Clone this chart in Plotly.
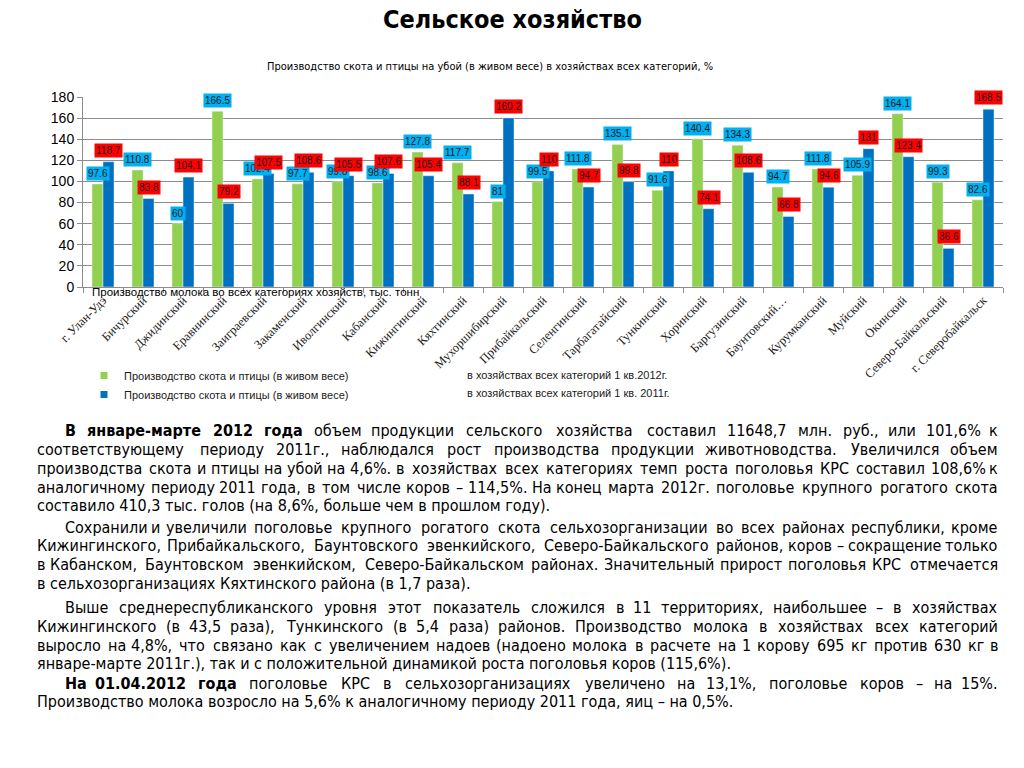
import plotly.graph_objects as go

categories = ["г. Улан-Удэ", "Бичурский", "Джидинский", "Еравнинский", "Заиграевский",
              "Закаменский", "Иволгинский", "Кабанский", "Кижингинский", "Кяхтинский",
              "Мухоршибирский", "Прибайкальский", "Селенгинский", "Тарбагатайский",
              "Тункинский", "Хоринский", "Баргузинский", "Баунтовский…", "Курумканский",
              "Муйский", "Окинский", "Северо-Байкальский", "г. Северобайкальск"]
values_2012 = [97.6, 110.8, 60, 166.5, 102.4, 97.7, 99.8, 98.6, 127.8, 117.7, 81, 99.5,
               111.8, 135.1, 91.6, 140.4, 134.3, 94.7, 111.8, 105.9, 164.1, 99.3, 82.6]
values_2011 = [118.7, 83.8, 104.1, 79.2, 107.5, 108.6, 105.5, 107.6, 105.4, 88.1, 160.2, 110,
               94.7, 99.8, 110, 74.1, 108.6, 66.8, 94.6, 131, 123.4, 36.6, 168.5]
y_ticks = [0, 20, 40, 60, 80, 100, 120, 140, 160, 180]

series_name = "Производство скота и птицы (в живом весе)"
series_suffix_2012 = "в хозяйствах всех категорий 1 кв.2012г."
series_suffix_2011 = "в хозяйствах всех категорий 1 кв. 2011г."

title_text = "Сельское хозяйство"
subtitle_text = "Производство скота и птицы на убой (в живом весе) в хозяйствах всех категорий, %"
stray_title = "Производство молока во всех категориях хозяйств, тыс. тонн"

# paragraphs: (line text, bold leading words, justified, indent)
paragraph_lines = [
    ("В январе-марте 2012 года объем продукции сельского хозяйства составил 11648,7 млн. руб., или 101,6% к", 4, True, True),
    ("соответствующему периоду 2011г., наблюдался рост производства продукции животноводства. Увеличился объем", 0, True, False),
    ("производства скота и птицы на убой на 4,6%. в хозяйствах всех категориях темп роста поголовья КРС составил 108,6% к", 0, True, False),
    ("аналогичному периоду 2011 года, в том числе коров – 114,5%. На конец марта 2012г. поголовье крупного рогатого скота", 0, True, False),
    ("составило 410,3 тыс. голов (на 8,6%, больше чем в прошлом году).", 0, False, False),
    ("Сохранили и увеличили поголовье крупного рогатого скота сельхозорганизации во всех районах республики, кроме", 0, True, True),
    ("Кижингинского, Прибайкальского, Баунтовского эвенкийского, Северо-Байкальского районов, коров – сокращение только", 0, True, False),
    ("в Кабанском, Баунтовском эвенкийском, Северо-Байкальском районах. Значительный прирост поголовья КРС отмечается", 0, True, False),
    ("в сельхозорганизациях Кяхтинского района (в 1,7 раза).", 0, False, False),
    ("Выше среднереспубликанского уровня этот показатель сложился в 11 территориях, наибольшее – в хозяйствах", 0, True, True),
    ("Кижингинского (в 43,5 раза), Тункинского (в 5,4 раза) районов. Производство молока в хозяйствах всех категорий", 0, True, False),
    ("выросло на 4,8%, что связано как с увеличением надоев (надоено молока в расчете на 1 корову 695 кг против 630 кг в", 0, True, False),
    ("январе-марте 2011г.), так и с положительной динамикой роста поголовья коров (115,6%).", 0, False, False),
    ("На 01.04.2012 года поголовье КРС в сельхозорганизациях увеличено на 13,1%, поголовье коров – на 15%.", 3, True, True),
    ("Производство молока возросло на 5,6% к аналогичному периоду 2011 года, яиц – на 0,5%.", 0, False, False),
]
line_y = [430, 449, 468, 487, 505, 527, 545, 564, 583, 607, 626, 645, 663, 683, 701]

W, H = 1024, 768
GREEN = "#92D050"
BLUE = "#0070C0"
CYAN_BOX = "#00B0F0"
RED_BOX = "#FF0000"
ARIAL = "Liberation Sans, Arial, sans-serif"
TAHOMA = "DejaVu Sans Condensed, DejaVu Sans, sans-serif"
TEXT_SIZE = 16


def px(x):
    return x / W


def py(y):
    return 1 - y / H


def char_w(ch):
    if ch in " .,:;":
        return 0.32
    if ch in "()":
        return 0.39
    if ch == "%":
        return 0.95
    if ch.isdigit():
        return 0.636
    if ch == "-":
        return 0.36
    if ch == "–":
        return 0.5
    if ch in "il":
        return 0.28
    if ch in "мшщжыюфМШЩЖЫЮФ":
        return 0.88
    if ch.isupper():
        return 0.72
    return 0.625


def word_w(word, bold):
    return sum(char_w(c) for c in word) * TEXT_SIZE * 0.9 * (1.1 if bold else 1.0)


fig = go.Figure()
fig.add_trace(go.Bar(x=categories, y=values_2012, marker_color=GREEN, showlegend=False,
                     hoverinfo="x+y"))
fig.add_trace(go.Bar(x=categories, y=values_2011, marker_color=BLUE, showlegend=False,
                     hoverinfo="x+y"))
# legend entries
fig.add_trace(go.Scatter(x=[None], y=[None], mode="markers", name=series_name,
                         marker=dict(symbol="square", size=7, color=GREEN)))
fig.add_trace(go.Scatter(x=[None], y=[None], mode="markers", name=series_name,
                         marker=dict(symbol="square", size=7, color=BLUE)))

annotations = []
for c, v in zip(categories, values_2012):
    annotations.append(dict(x=c, y=v, xref="x", yref="y", text=f"{v:g}", showarrow=False,
                            yanchor="bottom", xshift=-5.5, yshift=3, bgcolor=CYAN_BOX,
                            borderpad=1, font=dict(family=ARIAL, size=10, color="#1a1a1a")))
for c, v in zip(categories, values_2011):
    annotations.append(dict(x=c, y=v, xref="x", yref="y", text=f"{v:g}", showarrow=False,
                            yanchor="bottom", xshift=5.5, yshift=4, bgcolor=RED_BOX,
                            borderpad=1, font=dict(family=ARIAL, size=10, color="#1a1a1a")))

annotations.append(dict(x=px(512), y=py(20), xref="paper", yref="paper", text=f"<b>{title_text}</b>",
                        showarrow=False, xanchor="center", yanchor="middle",
                        font=dict(family=TAHOMA, size=25, color="black")))
annotations.append(dict(x=px(490), y=py(66), xref="paper", yref="paper", text=subtitle_text,
                        showarrow=False, xanchor="center", yanchor="middle",
                        font=dict(family=TAHOMA, size=11, color="black")))
annotations.append(dict(x=px(90), y=py(292), xref="paper", yref="paper", text=stray_title,
                        showarrow=False, xanchor="left", yanchor="middle",
                        font=dict(family=ARIAL, size=11.5, color="black")))
annotations.append(dict(x=px(465), y=py(375), xref="paper", yref="paper", text=series_suffix_2012,
                        showarrow=False, xanchor="left", yanchor="middle",
                        font=dict(family=ARIAL, size=11, color="#1a1a1a")))
annotations.append(dict(x=px(465), y=py(393), xref="paper", yref="paper", text=series_suffix_2011,
                        showarrow=False, xanchor="left", yanchor="middle",
                        font=dict(family=ARIAL, size=11, color="#1a1a1a")))

X_LEFT, X_RIGHT, INDENT = 35, 1000, 63
for (text, nbold, justified, indent), y in zip(paragraph_lines, line_y):
    xl = INDENT if indent else X_LEFT
    words = text.split(" ")
    if not justified:
        annotations.append(dict(x=px(xl), y=py(y), xref="paper", yref="paper", text=text,
                                showarrow=False, xanchor="left", yanchor="middle",
                                font=dict(family=TAHOMA, size=TEXT_SIZE, color="black")))
        continue
    widths = [word_w(w, i < nbold) for i, w in enumerate(words)]
    gap = (X_RIGHT - xl - sum(widths)) / (len(words) - 1)
    pos = xl
    for i, (w, ww) in enumerate(zip(words, widths)):
        t = f"<b>{w}</b>" if i < nbold else w
        if i == 0:
            x, anchor = pos, "left"
        elif i == len(words) - 1:
            x, anchor = X_RIGHT, "right"
        else:
            x, anchor = pos + ww / 2, "center"
        annotations.append(dict(x=px(x), y=py(y), xref="paper", yref="paper", text=t,
                                showarrow=False, xanchor=anchor, yanchor="middle",
                                font=dict(family=TAHOMA, size=TEXT_SIZE, color="black")))
        pos += ww + gap

fig.update_layout(
    width=W, height=H, autosize=False,
    margin=dict(l=0, r=0, t=0, b=0),
    paper_bgcolor="white", plot_bgcolor="white",
    barmode="group", bargap=0.45, bargroupgap=0,
    showlegend=True,
    legend=dict(x=px(84), y=py(361), xanchor="left", yanchor="top", orientation="v",
                font=dict(family=ARIAL, size=11, color="#1a1a1a"), bgcolor="rgba(0,0,0,0)",
                tracegroupgap=0),
    xaxis=dict(domain=[px(83), px(1003)], showline=True, linecolor="#8c8c8c", ticks="outside",
               tickson="boundaries", ticklen=5, tickcolor="#8c8c8c", tickangle=-45,
               tickfont=dict(family="Liberation Serif, DejaVu Serif, serif", size=12.5, color="#222"),
               automargin=False, fixedrange=True),
    yaxis=dict(domain=[py(287), py(97)], range=[0, 180], tickvals=y_ticks, showgrid=True,
               gridcolor="#8c8c8c", gridwidth=1, showline=True, linecolor="#8c8c8c",
               ticks="outside", ticklen=5, tickcolor="#8c8c8c", zeroline=False,
               tickfont=dict(family=ARIAL, size=14, color="black"), automargin=False,
               fixedrange=True),
    annotations=annotations,
)

fig.write_html("out.html", config={"displayModeBar": False},
               post_script="document.body.style.margin='0';")
